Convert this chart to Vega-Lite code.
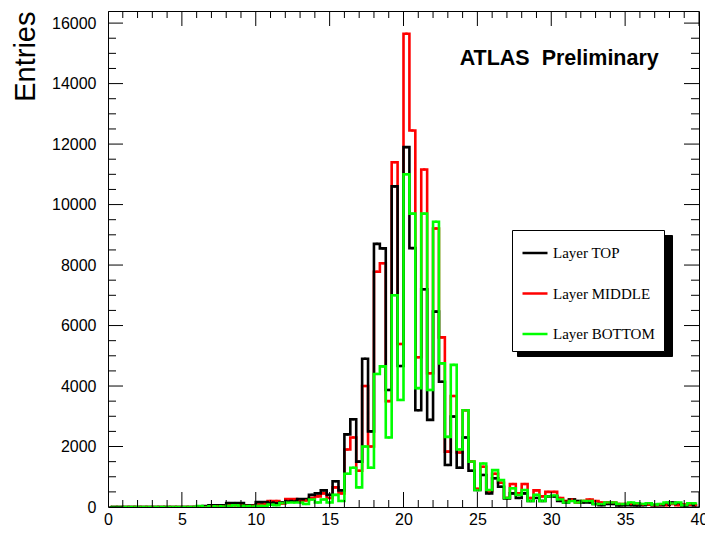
{
  "$schema": "https://vega.github.io/schema/vega-lite/v6.json",
  "width": 591,
  "height": 496,
  "autosize": "none",
  "padding": {"left": 108, "top": 11, "right": 6, "bottom": 27},
  "background": "white",
  "config": {
    "view": {"stroke": "#000000", "strokeWidth": 1},
    "font": "Liberation Sans",
    "axis": {"ticks": false, "tickSize": 0, "domain": false, "grid": false},
    "legend": {
      "orient": "none",
      "strokeColor": "#000000",
      "fillColor": "#ffffff",
      "padding": 9,
      "symbolType": "stroke",
      "symbolSize": 625,
      "symbolStrokeWidth": 2.5,
      "labelFont": "Liberation Serif",
      "labelFontSize": 15,
      "labelColor": "#000000",
      "labelOffset": 4,
      "rowPadding": 18.5,
      "title": null
    }
  },
  "datasets": {
    "bins": [
      {"x": 0.2, "Layer TOP": 0, "Layer MIDDLE": 0, "Layer BOTTOM": 0},
      {"x": 0.6, "Layer TOP": 0, "Layer MIDDLE": 0, "Layer BOTTOM": 0},
      {"x": 1.0, "Layer TOP": 0, "Layer MIDDLE": 0, "Layer BOTTOM": 0},
      {"x": 1.4, "Layer TOP": 0, "Layer MIDDLE": 0, "Layer BOTTOM": 0},
      {"x": 1.8, "Layer TOP": 0, "Layer MIDDLE": 0, "Layer BOTTOM": 0},
      {"x": 2.2, "Layer TOP": 0, "Layer MIDDLE": 0, "Layer BOTTOM": 0},
      {"x": 2.6, "Layer TOP": 0, "Layer MIDDLE": 0, "Layer BOTTOM": 0},
      {"x": 3.0, "Layer TOP": 0, "Layer MIDDLE": 0, "Layer BOTTOM": 0},
      {"x": 3.4, "Layer TOP": 0, "Layer MIDDLE": 0, "Layer BOTTOM": 0},
      {"x": 3.8, "Layer TOP": 0, "Layer MIDDLE": 0, "Layer BOTTOM": 0},
      {"x": 4.2, "Layer TOP": 0, "Layer MIDDLE": 0, "Layer BOTTOM": 0},
      {"x": 4.6, "Layer TOP": 0, "Layer MIDDLE": 0, "Layer BOTTOM": 0},
      {"x": 5.0, "Layer TOP": 0, "Layer MIDDLE": 0, "Layer BOTTOM": 0},
      {"x": 5.4, "Layer TOP": 0, "Layer MIDDLE": 0, "Layer BOTTOM": 0},
      {"x": 5.8, "Layer TOP": 0, "Layer MIDDLE": 0, "Layer BOTTOM": 0},
      {"x": 6.2, "Layer TOP": 0, "Layer MIDDLE": 0, "Layer BOTTOM": 30},
      {"x": 6.6, "Layer TOP": 30, "Layer MIDDLE": 0, "Layer BOTTOM": 0},
      {"x": 7.0, "Layer TOP": 60, "Layer MIDDLE": 30, "Layer BOTTOM": 20},
      {"x": 7.4, "Layer TOP": 60, "Layer MIDDLE": 30, "Layer BOTTOM": 20},
      {"x": 7.8, "Layer TOP": 60, "Layer MIDDLE": 30, "Layer BOTTOM": 20},
      {"x": 8.2, "Layer TOP": 130, "Layer MIDDLE": 60, "Layer BOTTOM": 40},
      {"x": 8.6, "Layer TOP": 130, "Layer MIDDLE": 60, "Layer BOTTOM": 60},
      {"x": 9.0, "Layer TOP": 130, "Layer MIDDLE": 60, "Layer BOTTOM": 40},
      {"x": 9.4, "Layer TOP": 60, "Layer MIDDLE": 40, "Layer BOTTOM": 30},
      {"x": 9.8, "Layer TOP": 50, "Layer MIDDLE": 40, "Layer BOTTOM": 20},
      {"x": 10.2, "Layer TOP": 160, "Layer MIDDLE": 80, "Layer BOTTOM": 40},
      {"x": 10.6, "Layer TOP": 160, "Layer MIDDLE": 100, "Layer BOTTOM": 40},
      {"x": 11.0, "Layer TOP": 150, "Layer MIDDLE": 200, "Layer BOTTOM": 80},
      {"x": 11.4, "Layer TOP": 120, "Layer MIDDLE": 200, "Layer BOTTOM": 60},
      {"x": 11.8, "Layer TOP": 150, "Layer MIDDLE": 120, "Layer BOTTOM": 130},
      {"x": 12.2, "Layer TOP": 200, "Layer MIDDLE": 260, "Layer BOTTOM": 150},
      {"x": 12.6, "Layer TOP": 200, "Layer MIDDLE": 260, "Layer BOTTOM": 150},
      {"x": 13.0, "Layer TOP": 260, "Layer MIDDLE": 200, "Layer BOTTOM": 150},
      {"x": 13.4, "Layer TOP": 260, "Layer MIDDLE": 220, "Layer BOTTOM": 100},
      {"x": 13.8, "Layer TOP": 400, "Layer MIDDLE": 300, "Layer BOTTOM": 250},
      {"x": 14.2, "Layer TOP": 450, "Layer MIDDLE": 350, "Layer BOTTOM": 150},
      {"x": 14.6, "Layer TOP": 550, "Layer MIDDLE": 450, "Layer BOTTOM": 250},
      {"x": 15.0, "Layer TOP": 400, "Layer MIDDLE": 300, "Layer BOTTOM": 150},
      {"x": 15.4, "Layer TOP": 850, "Layer MIDDLE": 650, "Layer BOTTOM": 400},
      {"x": 15.8, "Layer TOP": 550, "Layer MIDDLE": 450, "Layer BOTTOM": 200},
      {"x": 16.2, "Layer TOP": 2400, "Layer MIDDLE": 1900, "Layer BOTTOM": 1100},
      {"x": 16.6, "Layer TOP": 2900, "Layer MIDDLE": 2300, "Layer BOTTOM": 1300},
      {"x": 17.0, "Layer TOP": 1500, "Layer MIDDLE": 1200, "Layer BOTTOM": 650},
      {"x": 17.4, "Layer TOP": 4900, "Layer MIDDLE": 4000, "Layer BOTTOM": 2000},
      {"x": 17.8, "Layer TOP": 2500, "Layer MIDDLE": 2000, "Layer BOTTOM": 1300},
      {"x": 18.2, "Layer TOP": 8700, "Layer MIDDLE": 7780, "Layer BOTTOM": 4400},
      {"x": 18.6, "Layer TOP": 8550, "Layer MIDDLE": 8060, "Layer BOTTOM": 4650},
      {"x": 19.0, "Layer TOP": 3870, "Layer MIDDLE": 3500, "Layer BOTTOM": 2300},
      {"x": 19.4, "Layer TOP": 10600, "Layer MIDDLE": 11400, "Layer BOTTOM": 7000},
      {"x": 19.8, "Layer TOP": 4660, "Layer MIDDLE": 5390, "Layer BOTTOM": 3540},
      {"x": 20.2, "Layer TOP": 11900, "Layer MIDDLE": 15650, "Layer BOTTOM": 11000},
      {"x": 20.6, "Layer TOP": 8560, "Layer MIDDLE": 12450, "Layer BOTTOM": 9700},
      {"x": 21.0, "Layer TOP": 3200, "Layer MIDDLE": 4950, "Layer BOTTOM": 3930},
      {"x": 21.4, "Layer TOP": 7200, "Layer MIDDLE": 11160, "Layer BOTTOM": 9700},
      {"x": 21.8, "Layer TOP": 2880, "Layer MIDDLE": 4420, "Layer BOTTOM": 3870},
      {"x": 22.2, "Layer TOP": 6460, "Layer MIDDLE": 9210, "Layer BOTTOM": 9430},
      {"x": 22.6, "Layer TOP": 4140, "Layer MIDDLE": 5610, "Layer BOTTOM": 4750},
      {"x": 23.0, "Layer TOP": 1390, "Layer MIDDLE": 1830, "Layer BOTTOM": 2320},
      {"x": 23.4, "Layer TOP": 2990, "Layer MIDDLE": 3670, "Layer BOTTOM": 4700},
      {"x": 23.8, "Layer TOP": 1300, "Layer MIDDLE": 1800, "Layer BOTTOM": 1900},
      {"x": 24.2, "Layer TOP": 2300, "Layer MIDDLE": 3200, "Layer BOTTOM": 3200},
      {"x": 24.6, "Layer TOP": 1200, "Layer MIDDLE": 1500, "Layer BOTTOM": 1500},
      {"x": 25.0, "Layer TOP": 560, "Layer MIDDLE": 600, "Layer BOTTOM": 560},
      {"x": 25.4, "Layer TOP": 1060, "Layer MIDDLE": 1330, "Layer BOTTOM": 1440},
      {"x": 25.8, "Layer TOP": 450, "Layer MIDDLE": 520, "Layer BOTTOM": 560},
      {"x": 26.2, "Layer TOP": 950, "Layer MIDDLE": 1100, "Layer BOTTOM": 1220},
      {"x": 26.6, "Layer TOP": 670, "Layer MIDDLE": 800, "Layer BOTTOM": 890},
      {"x": 27.0, "Layer TOP": 280, "Layer MIDDLE": 300, "Layer BOTTOM": 300},
      {"x": 27.4, "Layer TOP": 450, "Layer MIDDLE": 760, "Layer BOTTOM": 620},
      {"x": 27.8, "Layer TOP": 300, "Layer MIDDLE": 450, "Layer BOTTOM": 400},
      {"x": 28.2, "Layer TOP": 450, "Layer MIDDLE": 760, "Layer BOTTOM": 560},
      {"x": 28.6, "Layer TOP": 200, "Layer MIDDLE": 300, "Layer BOTTOM": 200},
      {"x": 29.0, "Layer TOP": 300, "Layer MIDDLE": 550, "Layer BOTTOM": 400},
      {"x": 29.4, "Layer TOP": 200, "Layer MIDDLE": 350, "Layer BOTTOM": 200},
      {"x": 29.8, "Layer TOP": 350, "Layer MIDDLE": 500, "Layer BOTTOM": 350},
      {"x": 30.2, "Layer TOP": 350, "Layer MIDDLE": 500, "Layer BOTTOM": 380},
      {"x": 30.6, "Layer TOP": 200, "Layer MIDDLE": 300, "Layer BOTTOM": 250},
      {"x": 31.0, "Layer TOP": 150, "Layer MIDDLE": 200, "Layer BOTTOM": 150},
      {"x": 31.4, "Layer TOP": 250, "Layer MIDDLE": 250, "Layer BOTTOM": 200},
      {"x": 31.8, "Layer TOP": 200, "Layer MIDDLE": 150, "Layer BOTTOM": 150},
      {"x": 32.2, "Layer TOP": 150, "Layer MIDDLE": 200, "Layer BOTTOM": 200},
      {"x": 32.6, "Layer TOP": 150, "Layer MIDDLE": 250, "Layer BOTTOM": 200},
      {"x": 33.0, "Layer TOP": 100, "Layer MIDDLE": 200, "Layer BOTTOM": 100},
      {"x": 33.4, "Layer TOP": 60, "Layer MIDDLE": 150, "Layer BOTTOM": 100},
      {"x": 33.8, "Layer TOP": 100, "Layer MIDDLE": 150, "Layer BOTTOM": 150},
      {"x": 34.2, "Layer TOP": 100, "Layer MIDDLE": 150, "Layer BOTTOM": 150},
      {"x": 34.6, "Layer TOP": 50, "Layer MIDDLE": 100, "Layer BOTTOM": 100},
      {"x": 35.0, "Layer TOP": 60, "Layer MIDDLE": 100, "Layer BOTTOM": 100},
      {"x": 35.4, "Layer TOP": 60, "Layer MIDDLE": 100, "Layer BOTTOM": 150},
      {"x": 35.8, "Layer TOP": 50, "Layer MIDDLE": 100, "Layer BOTTOM": 120},
      {"x": 36.2, "Layer TOP": 60, "Layer MIDDLE": 80, "Layer BOTTOM": 100},
      {"x": 36.6, "Layer TOP": 100, "Layer MIDDLE": 80, "Layer BOTTOM": 120},
      {"x": 37.0, "Layer TOP": 60, "Layer MIDDLE": 60, "Layer BOTTOM": 80},
      {"x": 37.4, "Layer TOP": 60, "Layer MIDDLE": 80, "Layer BOTTOM": 100},
      {"x": 37.8, "Layer TOP": 80, "Layer MIDDLE": 60, "Layer BOTTOM": 150},
      {"x": 38.2, "Layer TOP": 150, "Layer MIDDLE": 100, "Layer BOTTOM": 120},
      {"x": 38.6, "Layer TOP": 100, "Layer MIDDLE": 60, "Layer BOTTOM": 150},
      {"x": 39.0, "Layer TOP": 50, "Layer MIDDLE": 80, "Layer BOTTOM": 60},
      {"x": 39.4, "Layer TOP": 100, "Layer MIDDLE": 80, "Layer BOTTOM": 120},
      {"x": 39.8, "Layer TOP": 60, "Layer MIDDLE": 60, "Layer BOTTOM": 120}
    ],
    "ticksX": [
      {"v": 0}, {"v": 1}, {"v": 2}, {"v": 3}, {"v": 4}, {"v": 5}, {"v": 6}, {"v": 7}, {"v": 8}, {"v": 9},
      {"v": 10}, {"v": 11}, {"v": 12}, {"v": 13}, {"v": 14}, {"v": 15}, {"v": 16}, {"v": 17}, {"v": 18}, {"v": 19},
      {"v": 20}, {"v": 21}, {"v": 22}, {"v": 23}, {"v": 24}, {"v": 25}, {"v": 26}, {"v": 27}, {"v": 28}, {"v": 29},
      {"v": 30}, {"v": 31}, {"v": 32}, {"v": 33}, {"v": 34}, {"v": 35}, {"v": 36}, {"v": 37}, {"v": 38}, {"v": 39}, {"v": 40}
    ],
    "ticksY": [
      {"v": 0}, {"v": 500}, {"v": 1000}, {"v": 1500}, {"v": 2000}, {"v": 2500}, {"v": 3000}, {"v": 3500},
      {"v": 4000}, {"v": 4500}, {"v": 5000}, {"v": 5500}, {"v": 6000}, {"v": 6500}, {"v": 7000}, {"v": 7500},
      {"v": 8000}, {"v": 8500}, {"v": 9000}, {"v": 9500}, {"v": 10000}, {"v": 10500}, {"v": 11000}, {"v": 11500},
      {"v": 12000}, {"v": 12500}, {"v": 13000}, {"v": 13500}, {"v": 14000}, {"v": 14500}, {"v": 15000}, {"v": 15500}, {"v": 16000}
    ]
  },
  "layer": [
    {
      "data": {"name": "bins"},
      "transform": [
        {"fold": ["Layer TOP", "Layer MIDDLE", "Layer BOTTOM"], "as": ["layer", "n"]},
        {"filter": "datum.layer === 'Layer MIDDLE'"}
      ],
      "mark": {"type": "line", "interpolate": "step", "strokeWidth": 2.6, "strokeJoin": "miter", "clip": true},
      "encoding": {
        "x": {"field": "x", "type": "quantitative", "scale": {"domain": [0, 40], "nice": false},
          "axis": {"orient": "bottom", "values": [0, 5, 10, 15, 20, 25, 30, 35, 40],
            "labelFontSize": 16, "labelColor": "#000", "labelPadding": 4, "labelFlush": false, "title": null}},
        "y": {"field": "n", "type": "quantitative", "scale": {"domain": [0, 16400], "nice": false, "zero": true},
          "axis": {"orient": "left", "values": [0, 2000, 4000, 6000, 8000, 10000, 12000, 14000, 16000], "format": "d",
            "labelFontSize": 16, "labelColor": "#000", "labelPadding": 12, "labelFlush": false,
            "title": "Entries", "titleFontSize": 29, "titleFontWeight": "normal", "titleColor": "#000", "titleAngle": -90, "titleAlign": "right", "titleBaseline": "alphabetic", "titleX": -74, "titleY": 0}},
        "color": {"field": "layer", "type": "nominal",
          "scale": {"domain": ["Layer TOP", "Layer MIDDLE", "Layer BOTTOM"], "range": ["#000000", "#ff0000", "#00ff00"]},
          "legend": {"legendX": 404, "legendY": 219, "zindex": 2}}
      }
    },
    {
      "data": {"name": "bins"},
      "transform": [
        {"fold": ["Layer TOP", "Layer MIDDLE", "Layer BOTTOM"], "as": ["layer", "n"]},
        {"filter": "datum.layer === 'Layer TOP'"}
      ],
      "mark": {"type": "line", "interpolate": "step", "strokeWidth": 2.6, "strokeJoin": "miter", "clip": true},
      "encoding": {
        "x": {"field": "x", "type": "quantitative", "axis": null},
        "y": {"field": "n", "type": "quantitative", "axis": null},
        "color": {"field": "layer", "type": "nominal"}
      }
    },
    {
      "data": {"name": "bins"},
      "transform": [
        {"fold": ["Layer TOP", "Layer MIDDLE", "Layer BOTTOM"], "as": ["layer", "n"]},
        {"filter": "datum.layer === 'Layer BOTTOM'"}
      ],
      "mark": {"type": "line", "interpolate": "step", "strokeWidth": 2.6, "strokeJoin": "miter", "clip": true},
      "encoding": {
        "x": {"field": "x", "type": "quantitative", "axis": null},
        "y": {"field": "n", "type": "quantitative", "axis": null},
        "color": {"field": "layer", "type": "nominal"}
      }
    },
    {
      "data": {"name": "bins"},
      "transform": [
        {"fold": ["Layer TOP", "Layer MIDDLE", "Layer BOTTOM"], "as": ["layer", "n"]}
      ],
      "mark": {"type": "square", "size": 5, "opacity": 1, "clip": true},
      "encoding": {
        "x": {"field": "x", "type": "quantitative", "axis": null},
        "y": {"field": "n", "type": "quantitative", "axis": null},
        "color": {"field": "layer", "type": "nominal"}
      }
    },
    {
      "data": {"name": "ticksX"},
      "mark": {"type": "tick", "orient": "vertical", "thickness": 1, "color": "#000", "opacity": 1, "clip": true},
      "encoding": {
        "x": {"field": "v", "type": "quantitative", "axis": null},
        "y": {"datum": 0, "type": "quantitative", "axis": null},
        "size": {"condition": {"test": "datum.v % 5 === 0", "value": 30}, "value": 14}
      }
    },
    {
      "data": {"name": "ticksX"},
      "mark": {"type": "tick", "orient": "vertical", "thickness": 1, "color": "#000", "opacity": 1, "clip": true},
      "encoding": {
        "x": {"field": "v", "type": "quantitative", "axis": null},
        "y": {"datum": 16400, "type": "quantitative", "axis": null},
        "size": {"condition": {"test": "datum.v % 5 === 0", "value": 30}, "value": 14}
      }
    },
    {
      "data": {"name": "ticksY"},
      "mark": {"type": "tick", "orient": "horizontal", "thickness": 1, "color": "#000", "opacity": 1, "clip": true},
      "encoding": {
        "y": {"field": "v", "type": "quantitative", "axis": null},
        "x": {"datum": 0, "type": "quantitative", "axis": null},
        "size": {"condition": {"test": "datum.v % 2000 === 0", "value": 30}, "value": 16}
      }
    },
    {
      "data": {"name": "ticksY"},
      "mark": {"type": "tick", "orient": "horizontal", "thickness": 1, "color": "#000", "opacity": 1, "clip": true},
      "encoding": {
        "y": {"field": "v", "type": "quantitative", "axis": null},
        "x": {"datum": 40, "type": "quantitative", "axis": null},
        "size": {"condition": {"test": "datum.v % 2000 === 0", "value": 30}, "value": 16}
      }
    },
    {
      "data": {"name": "bins"},
      "transform": [
        {"fold": ["Layer BOTTOM", "Layer MIDDLE", "Layer TOP"], "as": ["shadow", "m"]},
        {"filter": "datum.x < 1"}
      ],
      "mark": {"type": "line", "opacity": 0},
      "encoding": {
        "x": {"field": "x", "type": "quantitative", "axis": null},
        "y": {"field": "m", "type": "quantitative", "axis": null},
        "strokeDash": {"field": "shadow", "type": "nominal",
          "scale": {"domain": ["Layer BOTTOM", "Layer MIDDLE", "Layer TOP"]},
          "legend": {"legendX": 409, "legendY": 224, "fillColor": "#000000", "labelExpr": "''", "labelOffset": 109, "zindex": 1}}
      }
    },
    {
      "data": {"values": [{}]},
      "mark": {"type": "text", "font": "Liberation Sans", "fontWeight": "bold", "fontSize": 21.5, "align": "left", "baseline": "alphabetic", "color": "#000"},
      "encoding": {
        "x": {"datum": 23.8, "type": "quantitative", "axis": null},
        "y": {"datum": 14600, "type": "quantitative", "axis": null},
        "text": {"value": "ATLAS\u00a0 Preliminary"}
      }
    }
  ],
  "resolve": {"axis": {"x": "independent", "y": "independent"}}
}
